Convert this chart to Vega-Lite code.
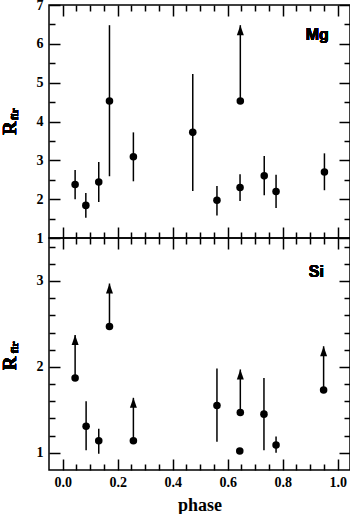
{
  "$schema": "https://vega.github.io/schema/vega-lite/v6.json",
  "padding": {"left": 0, "top": -3, "right": 0, "bottom": 0},
  "background": "white",
  "config": {
    "view": {"stroke": "black", "strokeWidth": 1.5},
    "font": "Liberation Serif"
  },
  "datasets": {
    "mg": [
      {"phase": 0.045, "r": 2.38, "lo": 2.0, "hi": 2.75},
      {"phase": 0.084, "r": 1.84, "lo": 1.52, "hi": 2.16},
      {"phase": 0.131, "r": 2.44, "lo": 1.93, "hi": 2.96},
      {"phase": 0.17, "r": 4.53, "lo": 2.59, "hi": 6.48},
      {"phase": 0.257, "r": 3.09, "lo": 2.46, "hi": 3.72},
      {"phase": 0.473, "r": 3.72, "lo": 2.21, "hi": 5.22},
      {"phase": 0.561, "r": 1.97, "lo": 1.58, "hi": 2.34},
      {"phase": 0.646, "r": 4.53, "tip": 6.48},
      {"phase": 0.645, "r": 2.3, "lo": 1.95, "hi": 2.64},
      {"phase": 0.733, "r": 2.6, "lo": 2.1, "hi": 3.11},
      {"phase": 0.776, "r": 2.2, "lo": 1.77, "hi": 2.63},
      {"phase": 0.952, "r": 2.7, "lo": 2.23, "hi": 3.18}
    ],
    "si": [
      {"phase": 0.045, "r": 1.87, "tip": 2.37},
      {"phase": 0.085, "r": 1.31, "lo": 1.03, "hi": 1.6},
      {"phase": 0.131, "r": 1.14, "lo": 0.99, "hi": 1.28},
      {"phase": 0.17, "r": 2.47, "tip": 2.97},
      {"phase": 0.257, "r": 1.14, "tip": 1.64},
      {"phase": 0.561, "r": 1.55, "lo": 1.13, "hi": 1.98},
      {"phase": 0.646, "r": 1.47, "tip": 1.97},
      {"phase": 0.644, "r": 1.02},
      {"phase": 0.732, "r": 1.45, "lo": 1.03, "hi": 1.87},
      {"phase": 0.776, "r": 1.09, "lo": 1.0, "hi": 1.19},
      {"phase": 0.949, "r": 1.73, "tip": 2.24}
    ]
  },
  "spacing": 0,
  "bounds": "flush",
  "vconcat": [
    {
      "width": 301,
      "height": 233,
      "data": {"name": "mg"},
      "resolve": {"axis": {"x": "independent", "y": "independent"}},
      "layer": [
        {
          "transform": [{"filter": "isValid(datum.lo)"}],
          "mark": {"type": "rule", "color": "black", "strokeWidth": 1.5},
          "encoding": {
            "x": {"field": "phase", "type": "quantitative", "scale": {"domain": [-0.05, 1.045], "nice": false, "zero": false},
              "axis": {"orient": "bottom", "values": [0,0.05,0.1,0.15,0.2,0.25,0.3,0.35,0.4,0.45,0.5,0.55,0.6,0.65,0.7,0.75,0.8,0.85,0.9,0.95,1.0],
                "labels": false, "title": null, "domain": false, "grid": false, "tickColor": "black", "tickWidth": 1.5,
                "tickSize": {"condition": {"test": "abs(datum.value*5-round(datum.value*5))<1e-6", "value": -11}, "value": -6}}},
            "y": {"field": "lo", "type": "quantitative", "scale": {"domain": [1, 7], "nice": false, "zero": false},
              "axis": {"orient": "left", "values": [1,1.5,2,2.5,3,3.5,4,4.5,5,5.5,6,6.5,7],
                "labelExpr": "abs(datum.value-round(datum.value))<1e-6 ? format(datum.value,'d') : ''",
                "tickSize": {"condition": {"test": "abs(datum.value-round(datum.value))<1e-6", "value": -11}, "value": -6},
                "title": null, "domain": false, "grid": false, "tickColor": "black", "tickWidth": 1.5,
                "labelFont": "Liberation Serif", "labelFontWeight": "bold", "labelFontSize": 14, "labelColor": "black",
                "labelPadding": 17, "labelFlush": false, "labelOverlap": false, "labelBaseline": "middle"}},
            "y2": {"field": "hi"}
          }
        },
        {
          "transform": [{"filter": "isValid(datum.tip)"}],
          "mark": {"type": "rule", "color": "black", "strokeWidth": 1.5},
          "encoding": {
            "x": {"field": "phase", "type": "quantitative",
              "axis": {"orient": "top", "values": [0,0.05,0.1,0.15,0.2,0.25,0.3,0.35,0.4,0.45,0.5,0.55,0.6,0.65,0.7,0.75,0.8,0.85,0.9,0.95,1.0],
                "labels": false, "title": null, "domain": false, "grid": false, "tickColor": "black", "tickWidth": 1.5,
                "tickSize": {"condition": {"test": "abs(datum.value*5-round(datum.value*5))<1e-6", "value": -11}, "value": -6}}},
            "y": {"field": "r", "type": "quantitative",
              "axis": {"orient": "right", "values": [1,1.5,2,2.5,3,3.5,4,4.5,5,5.5,6,6.5,7],
                "labels": false, "title": null, "domain": false, "grid": false, "tickColor": "black", "tickWidth": 1.5,
                "tickSize": {"condition": {"test": "abs(datum.value-round(datum.value))<1e-6", "value": -11}, "value": -6}}},
            "y2": {"field": "tip"}
          }
        },
        {
          "mark": {"type": "point", "shape": "circle", "filled": true, "color": "black", "size": 57, "opacity": 1},
          "encoding": {
            "x": {"field": "phase", "type": "quantitative", "axis": null},
            "y": {"field": "r", "type": "quantitative", "axis": null}
          }
        },
        {
          "transform": [{"filter": "isValid(datum.tip)"}],
          "mark": {"type": "point", "shape": "M-0.7,1L0.7,1L0,-1Z", "filled": true, "color": "black", "size": 100, "opacity": 1, "yOffset": 5},
          "encoding": {
            "x": {"field": "phase", "type": "quantitative", "axis": null},
            "y": {"field": "tip", "type": "quantitative", "axis": null}
          }
        },
        {
          "mark": {"type": "text", "text": "Mg", "font": "Liberation Sans", "fontWeight": "bold", "fontSize": 16, "align": "right", "baseline": "alphabetic", "color": "black"},
          "encoding": {
            "x": {"datum": 0.968, "type": "quantitative", "axis": null},
            "y": {"datum": 6.1, "type": "quantitative", "axis": null}
          }
        },
        {
          "mark": {"type": "text", "text": "R", "angle": 270, "font": "Liberation Serif", "fontWeight": "bold", "fontSize": 19, "align": "left", "baseline": "alphabetic", "color": "black"},
          "encoding": {
            "x": {"datum": -0.17, "type": "quantitative", "axis": null},
            "y": {"datum": 3.65, "type": "quantitative", "axis": null}
          }
        },
        {
          "mark": {"type": "text", "text": "fir", "angle": 270, "font": "Liberation Serif", "fontWeight": "bold", "fontSize": 11, "align": "left", "baseline": "alphabetic", "color": "black"},
          "encoding": {
            "x": {"datum": -0.1625, "type": "quantitative", "axis": null},
            "y": {"datum": 4.04, "type": "quantitative", "axis": null}
          }
        }
      ]
    },
    {
      "width": 301,
      "height": 232,
      "data": {"name": "si"},
      "resolve": {"axis": {"x": "independent", "y": "independent"}},
      "layer": [
        {
          "transform": [{"filter": "isValid(datum.lo)"}],
          "mark": {"type": "rule", "color": "black", "strokeWidth": 1.5},
          "encoding": {
            "x": {"field": "phase", "type": "quantitative", "scale": {"domain": [-0.05, 1.045], "nice": false, "zero": false},
              "axis": {"orient": "bottom", "values": [0,0.05,0.1,0.15,0.2,0.25,0.3,0.35,0.4,0.45,0.5,0.55,0.6,0.65,0.7,0.75,0.8,0.85,0.9,0.95,1.0],
                "labelExpr": "abs(datum.value*5-round(datum.value*5))<1e-6 ? format(datum.value,'.1f') : ''",
                "tickSize": {"condition": {"test": "abs(datum.value*5-round(datum.value*5))<1e-6", "value": -11}, "value": -6},
                "domain": false, "grid": false, "tickColor": "black", "tickWidth": 1.5,
                "labelFont": "Liberation Serif", "labelFontWeight": "bold", "labelFontSize": 14, "labelColor": "black",
                "labelPadding": 16, "labelFlush": false, "labelOverlap": false,
                "title": "phase", "titleFont": "Liberation Serif", "titleFontWeight": "bold", "titleFontSize": 18, "titleColor": "black", "titlePadding": 2}},
            "y": {"field": "lo", "type": "quantitative", "scale": {"domain": [0.8, 3.5], "nice": false, "zero": false},
              "axis": {"orient": "left", "values": [1,1.2,1.4,1.6,1.8,2,2.2,2.4,2.6,2.8,3,3.2,3.4],
                "labelExpr": "abs(datum.value-round(datum.value))<1e-6 ? format(datum.value,'d') : ''",
                "tickSize": {"condition": {"test": "abs(datum.value-round(datum.value))<1e-6", "value": -11}, "value": -6},
                "title": null, "domain": false, "grid": false, "tickColor": "black", "tickWidth": 1.5,
                "labelFont": "Liberation Serif", "labelFontWeight": "bold", "labelFontSize": 14, "labelColor": "black",
                "labelPadding": 17, "labelFlush": false, "labelOverlap": false, "labelBaseline": "middle"}},
            "y2": {"field": "hi"}
          }
        },
        {
          "transform": [{"filter": "isValid(datum.tip)"}],
          "mark": {"type": "rule", "color": "black", "strokeWidth": 1.5},
          "encoding": {
            "x": {"field": "phase", "type": "quantitative",
              "axis": {"orient": "top", "values": [0,0.05,0.1,0.15,0.2,0.25,0.3,0.35,0.4,0.45,0.5,0.55,0.6,0.65,0.7,0.75,0.8,0.85,0.9,0.95,1.0],
                "labels": false, "title": null, "domain": false, "grid": false, "tickColor": "black", "tickWidth": 1.5,
                "tickSize": {"condition": {"test": "abs(datum.value*5-round(datum.value*5))<1e-6", "value": -11}, "value": -6}}},
            "y": {"field": "r", "type": "quantitative",
              "axis": {"orient": "right", "values": [1,1.2,1.4,1.6,1.8,2,2.2,2.4,2.6,2.8,3,3.2,3.4],
                "labels": false, "title": null, "domain": false, "grid": false, "tickColor": "black", "tickWidth": 1.5,
                "tickSize": {"condition": {"test": "abs(datum.value-round(datum.value))<1e-6", "value": -11}, "value": -6}}},
            "y2": {"field": "tip"}
          }
        },
        {
          "mark": {"type": "point", "shape": "circle", "filled": true, "color": "black", "size": 57, "opacity": 1},
          "encoding": {
            "x": {"field": "phase", "type": "quantitative", "axis": null},
            "y": {"field": "r", "type": "quantitative", "axis": null}
          }
        },
        {
          "transform": [{"filter": "isValid(datum.tip)"}],
          "mark": {"type": "point", "shape": "M-0.7,1L0.7,1L0,-1Z", "filled": true, "color": "black", "size": 100, "opacity": 1, "yOffset": 5},
          "encoding": {
            "x": {"field": "phase", "type": "quantitative", "axis": null},
            "y": {"field": "tip", "type": "quantitative", "axis": null}
          }
        },
        {
          "mark": {"type": "text", "text": "Si", "font": "Liberation Sans", "fontWeight": "bold", "fontSize": 16, "align": "right", "baseline": "alphabetic", "color": "black"},
          "encoding": {
            "x": {"datum": 0.95, "type": "quantitative", "axis": null},
            "y": {"datum": 3.047, "type": "quantitative", "axis": null}
          }
        },
        {
          "mark": {"type": "text", "text": "R", "angle": 270, "font": "Liberation Serif", "fontWeight": "bold", "fontSize": 19, "align": "left", "baseline": "alphabetic", "color": "black"},
          "encoding": {
            "x": {"datum": -0.17, "type": "quantitative", "axis": null},
            "y": {"datum": 1.96, "type": "quantitative", "axis": null}
          }
        },
        {
          "mark": {"type": "text", "text": "fir", "angle": 270, "font": "Liberation Serif", "fontWeight": "bold", "fontSize": 11, "align": "left", "baseline": "alphabetic", "color": "black"},
          "encoding": {
            "x": {"datum": -0.1625, "type": "quantitative", "axis": null},
            "y": {"datum": 2.16, "type": "quantitative", "axis": null}
          }
        }
      ]
    }
  ]
}
